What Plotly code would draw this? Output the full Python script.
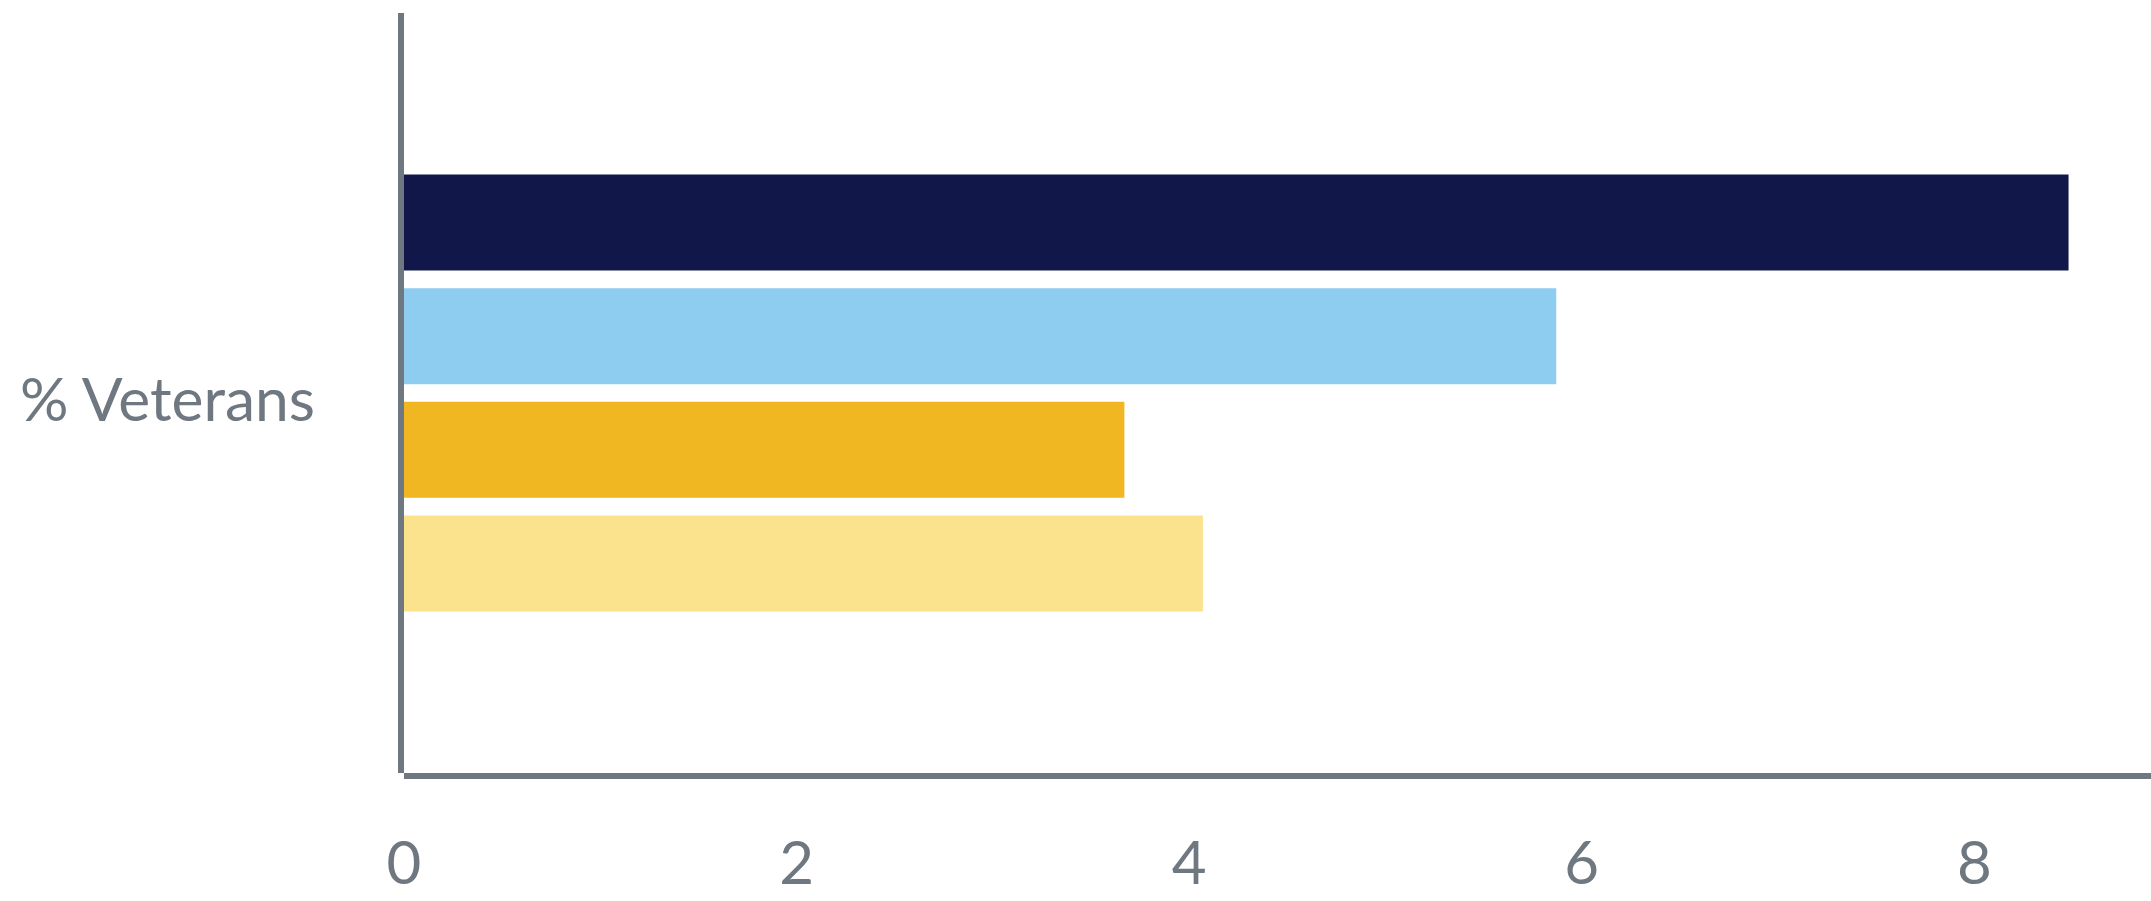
import plotly.graph_objects as go

# Single category, four grouped horizontal bars (top to bottom)
category = ["% Veterans"]
series_names = ["Group 1", "Group 2", "Group 3", "Group 4"]
series_values = [8.48, 5.87, 3.67, 4.07]
series_colors = ["#111849", "#8fcdf0", "#f0b723", "#fbe38e"]
x_ticks = [0, 2, 4, 6, 8]

AXIS_GREY = "#6f7780"
FONT = "Lato"

fig = go.Figure()
# Plotly stacks grouped horizontal bars bottom-up, so add in reverse order
for name, val, col in reversed(list(zip(series_names, series_values, series_colors))):
    fig.add_trace(go.Bar(
        y=category, x=[val], name=name, orientation="h",
        marker=dict(color=col, line=dict(width=0)),
        showlegend=False, hoverinfo="x",
    ))

fig.update_layout(
    width=2151, height=901,
    margin=dict(l=404, r=0, t=13, b=128, pad=0),
    paper_bgcolor="white", plot_bgcolor="white",
    barmode="group", bargap=0.402, bargroupgap=0.156,
    font=dict(family=FONT, color=AXIS_GREY, size=60),
    xaxis=dict(
        range=[0, 8.9], tickvals=x_ticks, ticktext=[str(t) for t in x_ticks],
        showgrid=False, zeroline=False, showline=False, ticks="",
        ticklabelstandoff=50,
        tickfont=dict(family=FONT, size=60, color=AXIS_GREY),
        fixedrange=True,
    ),
    yaxis=dict(
        showgrid=False, zeroline=False, showline=False, ticks="",
        ticklabelstandoff=88, ticklabelshift=7,
        tickfont=dict(family=FONT, size=60.5, color=AXIS_GREY),
        fixedrange=True,
    ),
    shapes=[
        # vertical axis line, just left of the plot area
        dict(type="rect", xref="paper", yref="paper", xsizemode="pixel", xanchor=0,
             x0=-6, x1=0, y0=0, y1=1, fillcolor=AXIS_GREY, line=dict(width=0), layer="above"),
        # horizontal axis line, just below the plot area
        dict(type="rect", xref="paper", yref="paper", ysizemode="pixel", yanchor=0,
             y0=-6, y1=0, x0=0, x1=1, fillcolor=AXIS_GREY, line=dict(width=0), layer="above"),
    ],
)

fig.write_html("out.html")
